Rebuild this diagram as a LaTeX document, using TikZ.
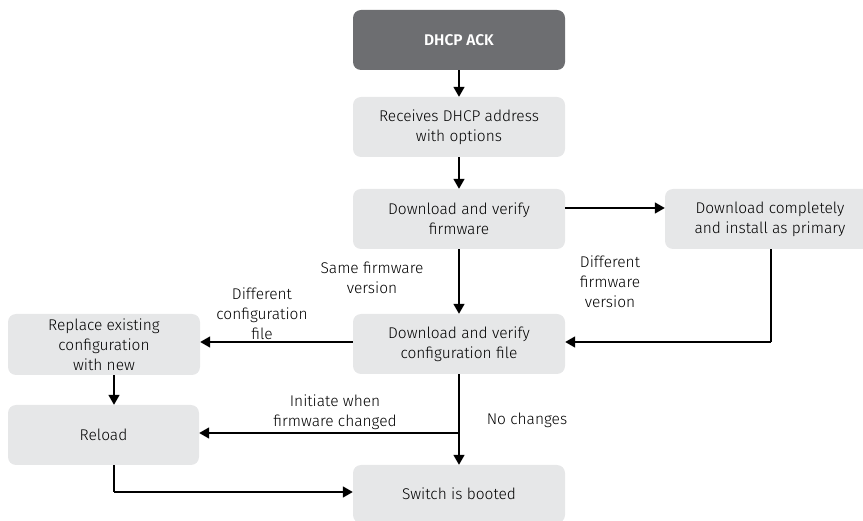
\documentclass[tikz,border=0pt]{standalone}
\usepackage{fontspec}
\setmainfont{Fira Sans Light}[BoldFont=Fira Sans SemiBold]
\usetikzlibrary{arrows.meta}
\definecolor{boxgray}{HTML}{E6E7E8}
\definecolor{darkgray}{HTML}{6D6E71}
\begin{document}
\begin{tikzpicture}[x=1pt,y=-1pt,
  box/.style={fill=boxgray,rounded corners=8pt,align=center,font=\fontsize{15.5}{20}\selectfont,inner sep=0pt},
  lbl/.style={align=center,font=\fontsize{15.5}{20}\selectfont,inner sep=0pt},
  arr/.style={draw=black,line width=1.6pt,-{Triangle[length=10pt,width=11pt]}},
  ln/.style={draw=black,line width=1.6pt}]
\useasboundingbox (0,0) rectangle (863,521);
\node[box,fill=darkgray,text=white,font=\fontsize{15.5}{20}\selectfont\bfseries,minimum width=212pt,minimum height=60pt] (ack) at (459,40) {DHCP ACK};
\node[box,minimum width=212pt,minimum height=60pt] (rec) at (459,127) {Receives DHCP address\\with options};
\node[box,minimum width=212pt,minimum height=60pt] (fw) at (459,219) {Download and verify\\firmware};
\node[box,minimum width=210pt,minimum height=60pt] (inst) at (770,219) {Download completely\\and install as primary};
\node[box,minimum width=212pt,minimum height=60pt] (cfg) at (459,344) {Download and verify\\configuration file};
\node[box,minimum width=192pt,minimum height=61pt] (rep) at (104,344.5) {Replace existing\\configuration\\with new};
\node[box,minimum width=191pt,minimum height=60pt] (rel) at (103.5,435) {Reload};
\node[box,minimum width=212pt,minimum height=58pt] (sw) at (459,494) {Switch is booted};

\coordinate (br) at (459,433);
\coordinate (cr) at (771,342);
\coordinate (rb) at (114,492);

\draw[arr] (ack) -- (rec);
\draw[arr] (rec) -- (fw);
\draw[arr] (fw) -- (cfg);
\draw[arr] (fw.east |- 0,208) -- (inst.west |- 0,208);
\draw[ln] (inst.south -| cr) -- (cr);
\draw[arr] (cr) -- (cfg.east |- cr);
\draw[arr] (cfg.west |- 0,342) -- (rep.east |- 0,342);
\draw[arr] (rep.south -| 114,0) -- (rel.north -| 114,0);
\draw[arr] (cfg) -- (sw);
\draw[arr] (br) -- (rel.east |- br);
\draw[ln] (rel.south -| rb) -- (rb);
\draw[arr] (rb) -- (sw.west |- rb);

\node[lbl] (l1) at (610,282) {Different\\firmware\\version};
\node[lbl] (l2) at (372,278) {Same firmware\\version};
\node[lbl] (l3) at (262,314) {Different\\configuration\\file};
\node[lbl,anchor=south] (l4) at (335,430) {Initiate when\\firmware changed};
\node[lbl] (l5) at (527,420) {No changes};
\end{tikzpicture}
\end{document}
